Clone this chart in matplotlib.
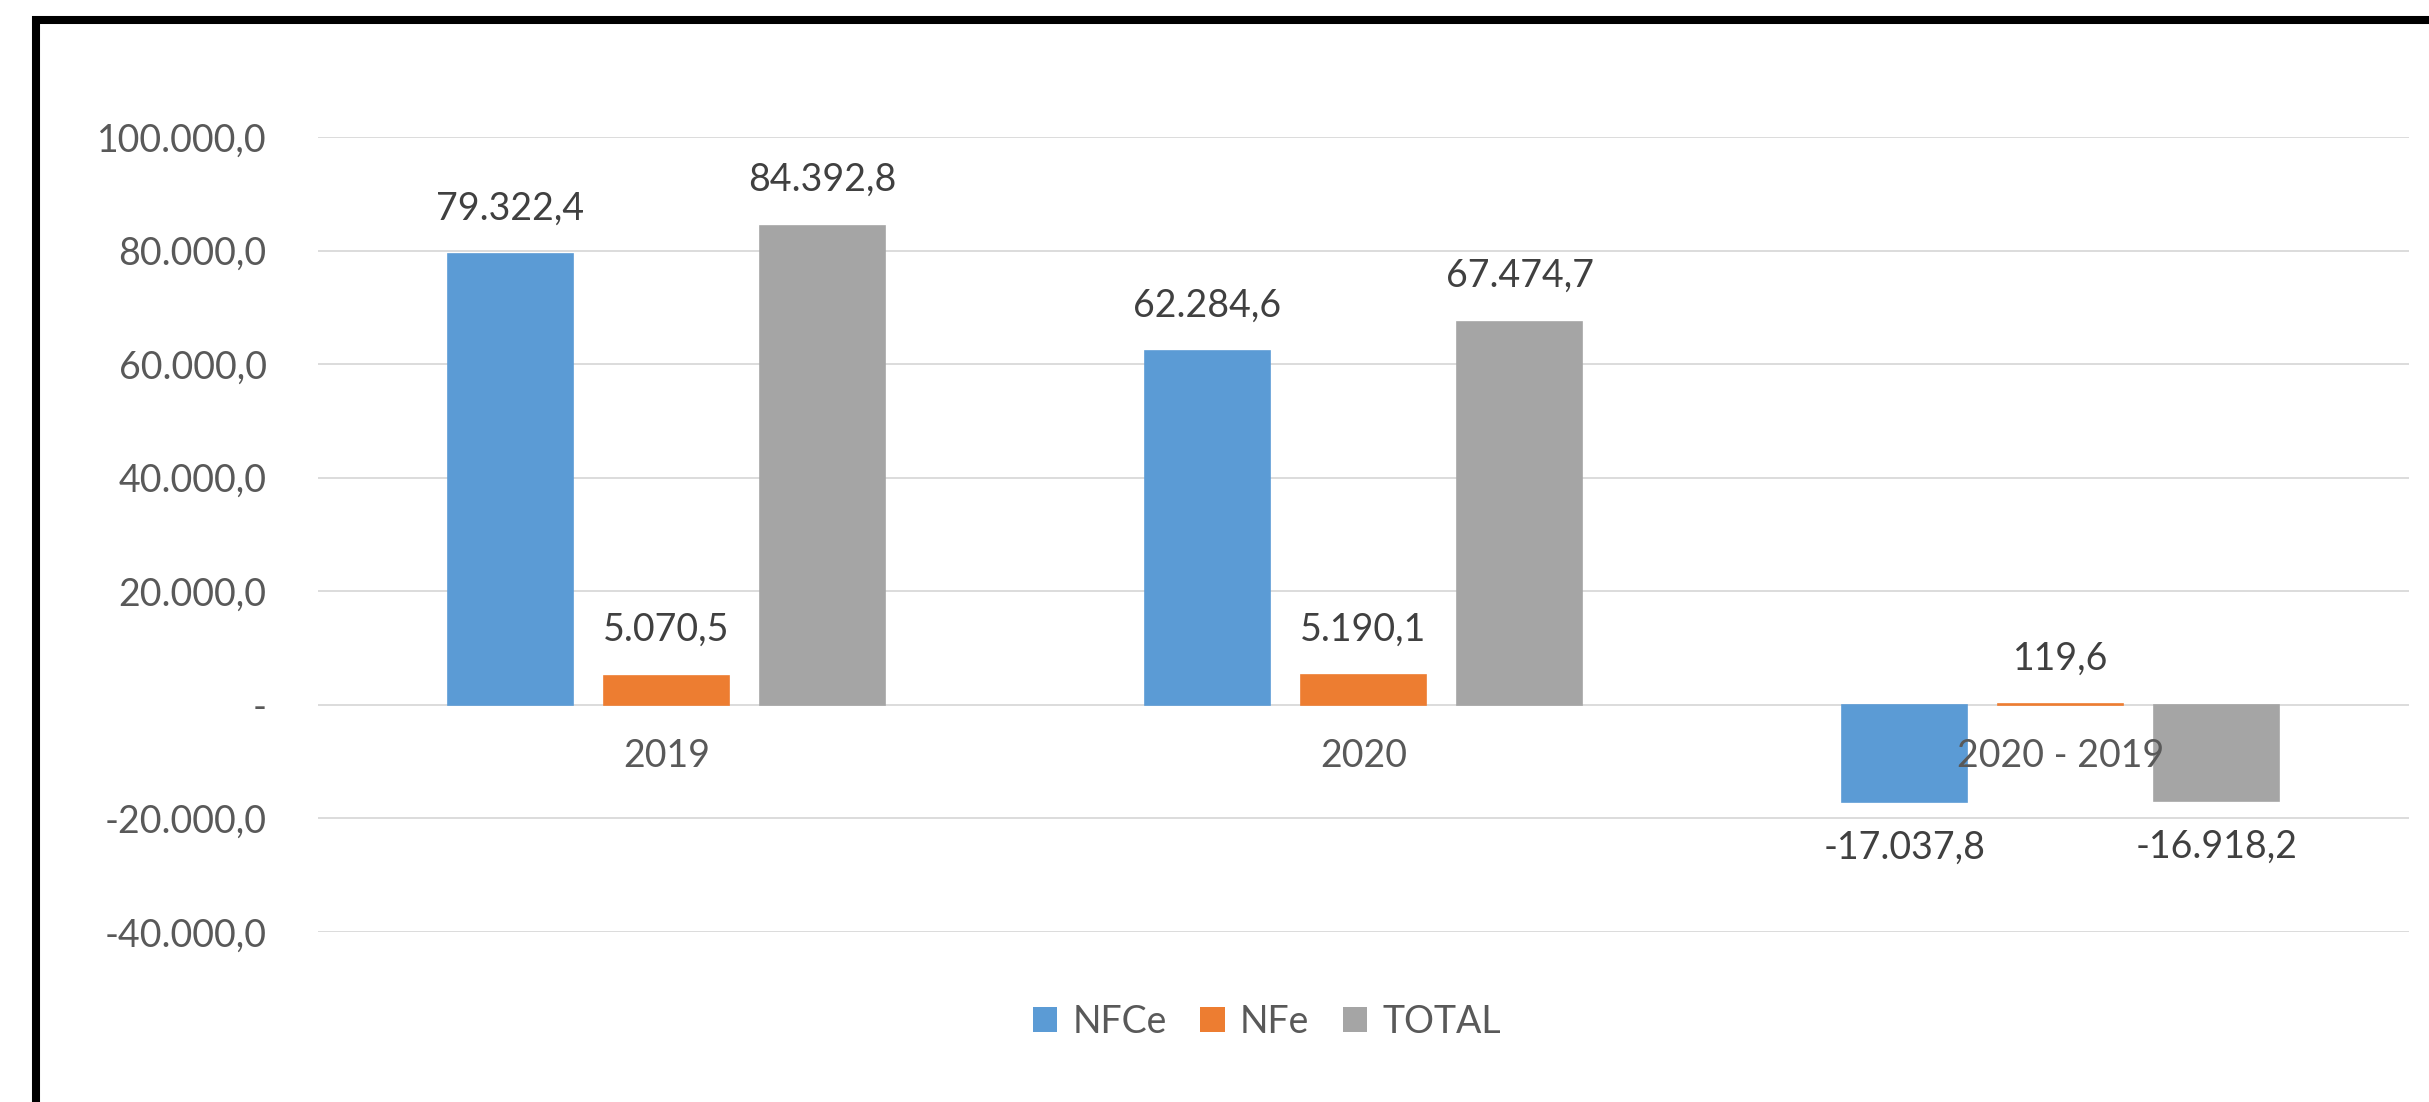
import numpy as np
import matplotlib.pyplot as plt
from matplotlib.patches import Patch
from matplotlib.lines import Line2D
from matplotlib.ticker import FuncFormatter, MultipleLocator

plt.rcParams['font.family'] = ['Lato', 'DejaVu Sans']

categories = ['2019', '2020', '2020 - 2019']
series_names = ['NFCe', 'NFe', 'TOTAL']
nfce = [79322.4, 62284.6, -17037.8]
nfe = [5070.5, 5190.1, 119.6]
total = [84392.8, 67474.7, -16918.2]

colors = ['#5B9BD5', '#ED7D31', '#A5A5A5']


def br_number(v):
    # 12345.6 -> 12.345,6 ; zero shown as a dash
    if abs(v) < 1e-9:
        return '-'
    s = f'{v:,.1f}'
    return s.replace(',', '#').replace('.', ',').replace('#', '.')


fig = plt.figure(figsize=(24.29, 11.02), dpi=100)
ax = fig.add_axes([0.1309, 0.1543, 0.8609, 0.7214])

x = np.arange(len(categories))
width = 0.179
step = 0.224
fs = 27

for i, (name, vals) in enumerate(zip(series_names, [nfce, nfe, total])):
    pos = x + (i - 1) * step
    bars = ax.bar(pos, vals, width, color=colors[i], edgecolor=colors[i],
                  linewidth=1.2, label=name, zorder=2)
    for b, v in zip(bars, vals):
        off = 33 if v >= 0 else -33
        ax.annotate(br_number(v), (b.get_x() + b.get_width() / 2, v),
                    xytext=(0, off), textcoords='offset points',
                    ha='center', va='center', fontsize=fs, color='#404040')

ax.set_xlim(-0.5, len(categories) - 0.5)
ax.set_ylim(-40000, 100000)
ax.yaxis.set_major_locator(MultipleLocator(20000))
ax.yaxis.set_major_formatter(FuncFormatter(lambda v, p: br_number(v)))
ax.grid(axis='y', color='#D9D9D9', linewidth=1.3, zorder=0)
ax.set_axisbelow(True)

for s in ['top', 'right', 'left', 'bottom']:
    ax.spines[s].set_visible(False)
ax.tick_params(axis='y', length=0, pad=37, labelsize=fs, labelcolor='#595959')
ax.set_xticks([])

# category names sit just under the zero line, drawn over the bars
for xi, cat in zip(x, categories):
    ax.annotate(cat, (xi, 0), xytext=(0, -37), textcoords='offset points',
                ha='center', va='center', fontsize=fs, color='#595959', zorder=5)

handles = [Patch(facecolor=c, edgecolor='none') for c in colors]
fig.legend(handles, series_names, loc='center', bbox_to_anchor=(0.5216, 0.0726),
           ncol=3, frameon=False, fontsize=fs, labelcolor='#595959',
           handlelength=0.65, handleheight=0.65, handletextpad=0.4,
           columnspacing=0.9)

# black frame around the chart area
bx = 36 / 2429
by = 1 - 20 / 1102
fig.add_artist(Line2D([bx, bx, 1.01], [-0.01, by, by], transform=fig.transFigure,
                      color='black', linewidth=5.8, solid_joinstyle='miter'))

fig.savefig('out.png', dpi=100, facecolor='white')
